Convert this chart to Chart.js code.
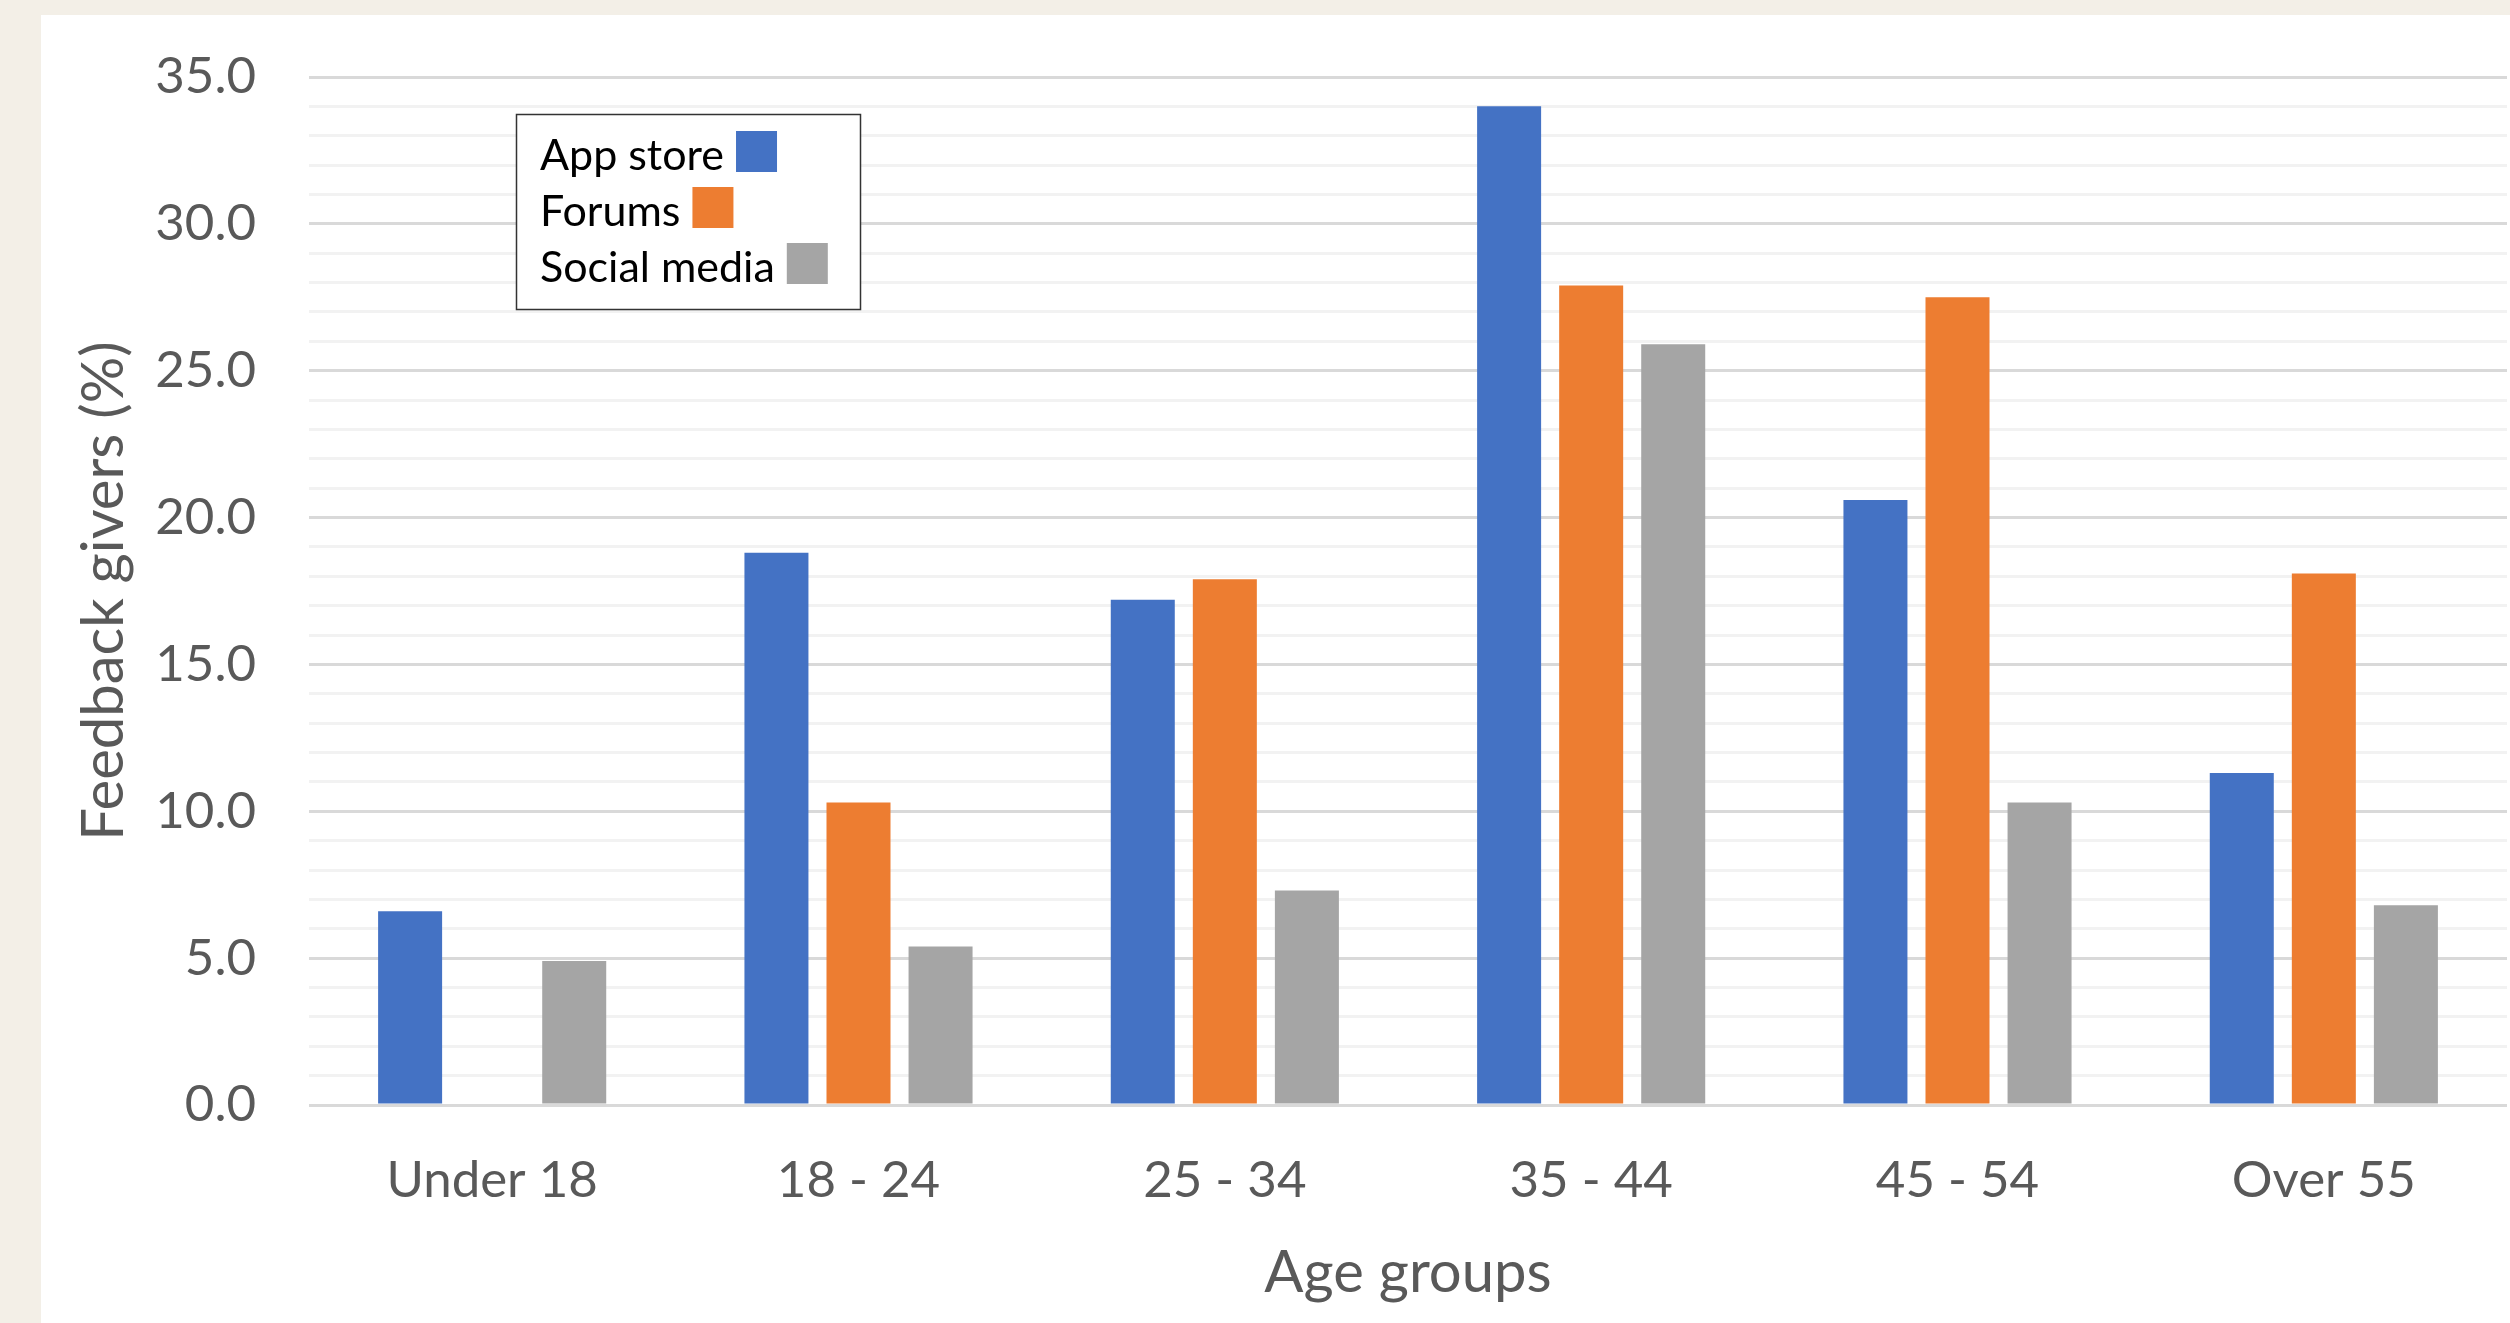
<!DOCTYPE html>
<html>
<head>
<meta charset="utf-8">
<script src="https://cdn.jsdelivr.net/npm/chart.js@4.4.0/dist/chart.umd.min.js"></script>
<style>
html, body { margin: 0; padding: 0; }
body { width: 2510px; height: 1323px; background: #f3efe7; position: relative; overflow: hidden; }
#card { position: absolute; left: 41px; top: 15px; right: 0; bottom: 0; background: #ffffff; }
#chart { position: absolute; left: 0; top: 0; }
</style>
</head>
<body>
<div id="card"></div>
<canvas id="chart" width="2510" height="1323"></canvas>
<script>
// values
var ageGroups = ['Under 18', '18 - 24', '25 - 34', '35 - 44', '45 - 54', 'Over 55'];
var appStore = [6.6, 18.8, 17.2, 34.0, 20.6, 11.3];
var forums = [null, 10.3, 17.9, 27.9, 27.5, 18.1];
var socialMedia = [4.9, 5.4, 7.3, 25.9, 10.3, 6.8];
var seriesNames = ['App store', 'Forums', 'Social media'];
var yTickLabels = [0, 5, 10, 15, 20, 25, 30, 35];

var colors = ['#4472C4', '#ED7D31', '#A5A5A5'];

// legend with the text first and the colour square after it
var textLegend = {
    id: 'textLegend',
    afterDraw: function(chart) {
        var ctx = chart.ctx;
        ctx.save();
        ctx.fillStyle = '#ffffff';
        ctx.fillRect(516, 114, 345, 196);
        ctx.strokeStyle = '#333333';
        ctx.lineWidth = 1.5;
        ctx.strokeRect(516.5, 114.5, 344, 195);
        ctx.font = '43px Lato';
        ctx.textBaseline = 'alphabetic';
        ctx.textAlign = 'left';
        chart.data.datasets.forEach(function(ds, i) {
            var y = 170 + i * 56;
            ctx.fillStyle = '#000000';
            ctx.fillText(ds.label, 540, y);
            var w = ctx.measureText(ds.label).width;
            ctx.fillStyle = ds.backgroundColor;
            ctx.fillRect(540 + w + 12, y - 39, 41, 41);
        });
        ctx.restore();
    }
};

var ctx = document.getElementById('chart').getContext('2d');
var myChart = new Chart(ctx, {
    type: 'bar',
    data: {
        labels: ageGroups,
        datasets: [
            { label: seriesNames[0], data: appStore, backgroundColor: colors[0] },
            { label: seriesNames[1], data: forums, backgroundColor: colors[1] },
            { label: seriesNames[2], data: socialMedia, backgroundColor: colors[2] }
        ]
    },
    options: {
        responsive: false,
        animation: false,
        devicePixelRatio: 1,
        categoryPercentage: 0.672,
        barPercentage: 0.78,
        layout: {
            padding: { left: 41, top: 77, right: 3, bottom: 0 }
        },
        plugins: {
            legend: { display: false },
            tooltip: { enabled: false }
        },
        scales: {
            x: {
                grid: { display: false },
                border: { display: false },
                ticks: {
                    color: '#595959',
                    font: { family: 'Lato', size: 51 },
                    padding: 37,
                    maxRotation: 0
                },
                title: {
                    display: true,
                    text: 'Age groups',
                    color: '#595959',
                    font: { family: 'Lato', size: 58 },
                    padding: { top: 0, bottom: 15 }
                },
                afterFit: function(scale) { scale.height = 218; }
            },
            y: {
                min: 0,
                max: 35,
                border: { display: false },
                grid: {
                    drawTicks: false,
                    tickLength: 0,
                    lineWidth: 3,
                    color: function(c) {
                        return yTickLabels.indexOf(c.tick.value) >= 0 ? '#d9d9d9' : '#f2f2f2';
                    }
                },
                ticks: {
                    stepSize: 1,
                    autoSkip: false,
                    color: '#595959',
                    font: { family: 'Lato', size: 51 },
                    padding: 53,
                    callback: function(value) {
                        return yTickLabels.indexOf(value) >= 0 ? value.toFixed(1) : '';
                    }
                },
                title: {
                    display: true,
                    text: 'Feedback givers (%)',
                    color: '#595959',
                    font: { family: 'Lato', size: 58 },
                    padding: { top: 28, bottom: 0 }
                },
                afterFit: function(scale) {
                    scale.width = 268;
                    // tick padding would otherwise push the plot top down
                    scale.paddingTop = 0;
                    scale.paddingBottom = 0;
                }
            }
        }
    },
    plugins: [textLegend]
});
</script>
</body>
</html>
